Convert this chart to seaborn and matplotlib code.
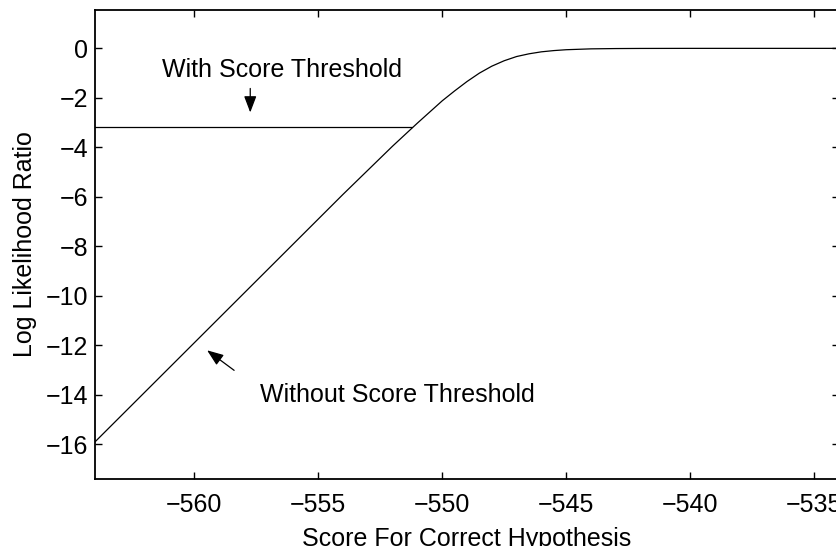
import matplotlib
matplotlib.use("Agg")
import matplotlib.pyplot as plt
import seaborn as sns
import pandas as pd

# Log likelihood ratio vs. score of the correct hypothesis (no threshold)
score = [-564, -562, -560, -558, -556, -554, -552, -551, -550, -549.5,
         -549, -548.5, -548, -547.5, -547, -546.5, -546, -545.5, -545,
         -544, -543, -542, -540, -537, -534]
llr = [-15.9, -13.9, -11.9, -9.9, -7.9, -5.9, -3.95, -3.02, -2.12, -1.72,
       -1.34, -1.0, -0.72, -0.5, -0.33, -0.22, -0.14, -0.09, -0.055,
       -0.02, -0.008, -0.003, 0.0, 0.0, 0.0]

# Flat floor applied when a score threshold is used
thresh_score = [-564, -551.2]
thresh_llr = [-3.19, -3.19]

xticks = [-560, -555, -550, -545, -540, -535]
yticks = [0, -2, -4, -6, -8, -10, -12, -14, -16]

sns.set_style("ticks")
plt.rcParams["font.family"] = ["Liberation Sans", "DejaVu Sans"]
plt.rcParams["text.color"] = "black"
plt.rcParams["axes.labelcolor"] = "black"

fig = plt.figure(figsize=(8.36, 5.46), dpi=100)
ax = fig.add_axes([95 / 836, 67 / 546, 744 / 836, 469 / 546])

curve = pd.DataFrame({"score": score, "llr": llr})
floor = pd.DataFrame({"score": thresh_score, "llr": thresh_llr})
sns.lineplot(data=curve, x="score", y="llr", ax=ax, color="black",
             linewidth=0.9, estimator=None, sort=False)
sns.lineplot(data=floor, x="score", y="llr", ax=ax, color="black",
             linewidth=0.9, estimator=None, sort=False)

ax.set_xlim(-564, -534)
ax.set_ylim(-17.4, 1.55)
ax.set_xticks(xticks)
ax.set_yticks(yticks)
ax.set_xticklabels([f"\u2212{abs(v)}" for v in xticks])
ax.set_yticklabels([("\u2212" if v < 0 else "") + str(abs(v)) for v in yticks])

fs = 18
ax.tick_params(axis="both", direction="in", length=5, width=1.0,
               top=True, right=True, labelsize=fs, colors="black")
ax.tick_params(axis="x", pad=10)
ax.tick_params(axis="y", pad=5)
for sp in ax.spines.values():
    sp.set_visible(True)
    sp.set_linewidth(1.3)
    sp.set_color("black")

ax.set_xlabel("Score For Correct Hypothesis", fontsize=fs, labelpad=7)
ax.set_ylabel("Log Likelihood Ratio", fontsize=fs, labelpad=6)

arrow = dict(arrowstyle="-|>,head_length=1.0,head_width=0.38",
             color="black", lw=0.9, shrinkA=0, shrinkB=0)
ax.text(-556.45, -0.89, "With Score Threshold", fontsize=fs,
        ha="center", va="center")
ax.annotate("", xy=(-557.74, -2.59), xytext=(-557.74, -1.62),
            arrowprops=arrow)
ax.text(-551.81, -14.02, "Without Score Threshold", fontsize=fs,
        ha="center", va="center")
ax.annotate("", xy=(-559.48, -12.20), xytext=(-558.39, -13.01),
            arrowprops=arrow)

fig.savefig("out.png", dpi=100)
